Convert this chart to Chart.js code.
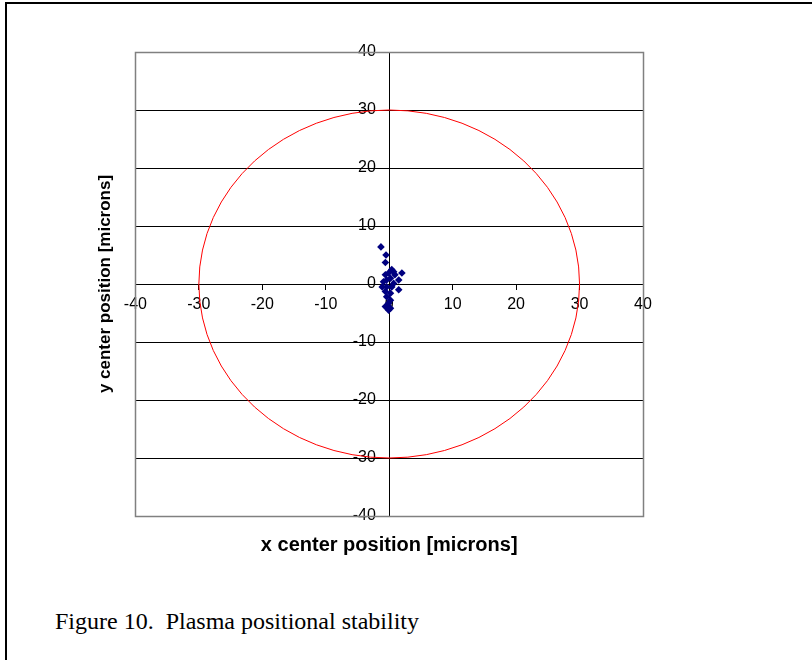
<!DOCTYPE html>
<html>
<head>
<meta charset="utf-8">
<script src="https://cdn.jsdelivr.net/npm/chart.js@4.4.1/dist/chart.umd.min.js"></script>
<style>
  html, body { margin: 0; padding: 0; background: #fff; }
  body { width: 812px; height: 660px; position: relative; overflow: hidden; }
  #frame { position: absolute; left: 5px; top: 2px; width: 820px; height: 700px;
           border-left: 2px solid #000; border-top: 2px solid #000; }
  #wrap { position: absolute; left: 0; top: 0; width: 812px; height: 580px; }
  #caption { position: absolute; left: 55px; top: 609px; line-height: 1;
             font-family: "Liberation Serif", "Times New Roman", serif; font-size: 24px;
             color: #000; white-space: pre; }
</style>
</head>
<body>
<div id="frame"></div>
<div id="wrap"><canvas id="myChart" width="812" height="580"></canvas></div>
<div id="caption">Figure 10.  Plasma positional stability</div>
<script>
// data
const xValues = [-1.3, -0.5, -0.6, 0.4, 2.0, -0.1, 0.7, -0.6, 0.9, 1.5, -0.4, 0.2, -0.9, 0.7,
                 -1.1, -0.4, 0.4, 1.5, -0.6, 0.2, -0.4, 0.2, -0.1, -0.4, 0.2, -0.1, -0.6];
const yValues = [6.4, 5.0, 3.7, 2.5, 1.9, 1.9, 2.1, 1.6, 1.6, 0.7, 0.7, 1.0, 0.4, 0.1,
                 -0.5, -0.5, -0.5, -1.0, -1.3, -1.6, -2.2, -2.8, -3.3, -3.9, -4.2, -4.5, -3.9];
const axisTicks = [-40, -30, -20, -10, 0, 10, 20, 30, 40];
const circleRadius = 30;

const points = xValues.map((x, i) => ({ x: x, y: yValues[i] }));

const tickFont = { family: 'Liberation Sans', size: 16 };
const titleFont = { family: 'Liberation Sans', weight: 'bold' };

// red limit circle + grey plot frame
const circlePlugin = {
  id: 'circle',
  beforeDatasetsDraw(chart) {
    const ctx = chart.ctx;
    const xs = chart.scales.x, ys = chart.scales.y;
    const cx = xs.getPixelForValue(0), cy = ys.getPixelForValue(0);
    const rx = xs.getPixelForValue(circleRadius) - cx;
    const ry = cy - ys.getPixelForValue(circleRadius);
    ctx.save();
    ctx.strokeStyle = '#ff0000';
    ctx.lineWidth = 1;
    ctx.beginPath();
    ctx.ellipse(cx, cy, rx, ry, 0, 0, Math.PI * 2);
    ctx.stroke();
    const a = chart.chartArea;
    ctx.strokeStyle = '#808080';
    ctx.lineWidth = 1.5;
    ctx.strokeRect(Math.round(a.left) + 0.5, Math.round(a.top) + 0.5,
                   Math.round(a.right - a.left), Math.round(a.bottom - a.top));
    ctx.restore();
  }
};

const data = {
  datasets: [{
    label: 'center',
    data: points,
    xAxisID: 'x',
    yAxisID: 'y',
    pointStyle: 'rectRot',
    pointRadius: 3.8,
    backgroundColor: '#000080',
    borderColor: '#000080',
    borderWidth: 0,
    showLine: false
  }]
};

const config = {
  type: 'scatter',
  data,
  plugins: [circlePlugin],
  options: {
    responsive: false,
    animation: false,
    devicePixelRatio: 1,
    layout: { padding: { left: 95, right: 169, top: 52, bottom: 23 } },
    plugins: { legend: { display: false }, tooltip: { enabled: false } },
    scales: {
      x: {
        type: 'linear', min: -40, max: 40, position: { y: 0 },
        afterBuildTicks: s => { s.ticks = axisTicks.map(v => ({ value: v })); },
        afterFit: s => { s.height = 0; },
        grid: { drawOnChartArea: false, drawTicks: true, tickLength: 5, tickColor: '#000', color: '#000' },
        border: { display: true, color: '#000', width: 1 },
        ticks: { color: '#000', font: tickFont, padding: 6, maxRotation: 0, autoSkip: false }
      },
      y: {
        type: 'linear', min: -40, max: 40, position: { x: 0 },
        afterBuildTicks: s => { s.ticks = axisTicks.map(v => ({ value: v })); },
        afterFit: s => { s.width = 0; },
        grid: {
          color: c => (c.tick && Math.abs(c.tick.value) === 40 ? '#808080' : '#000'),
          drawTicks: true, tickLength: 5, tickColor: '#000'
        },
        border: { display: true, color: '#000', width: 1 },
        // centred axis puts labels flush on the axis, pad them off with spaces
        ticks: { color: '#000', font: tickFont, autoSkip: false, callback: v => v + '   ' }
      },
      xt: {
        type: 'linear', position: 'bottom', min: 0, max: 1,
        ticks: { display: false },
        grid: { display: false, drawTicks: false },
        border: { display: false },
        title: { display: true, text: 'x center position [microns]', color: '#000',
                 font: Object.assign({ size: 20 }, titleFont), padding: { top: 17, bottom: 0 } }
      },
      yt: {
        type: 'linear', position: 'left', min: 0, max: 1,
        ticks: { display: false },
        grid: { display: false, drawTicks: false },
        border: { display: false },
        title: { display: true, text: 'y center position [microns]', color: '#000',
                 font: Object.assign({ size: 17 }, titleFont), padding: { top: 0, bottom: 20 } }
      }
    }
  }
};

const myChart = new Chart(document.getElementById('myChart'), config);
</script>
</body>
</html>
